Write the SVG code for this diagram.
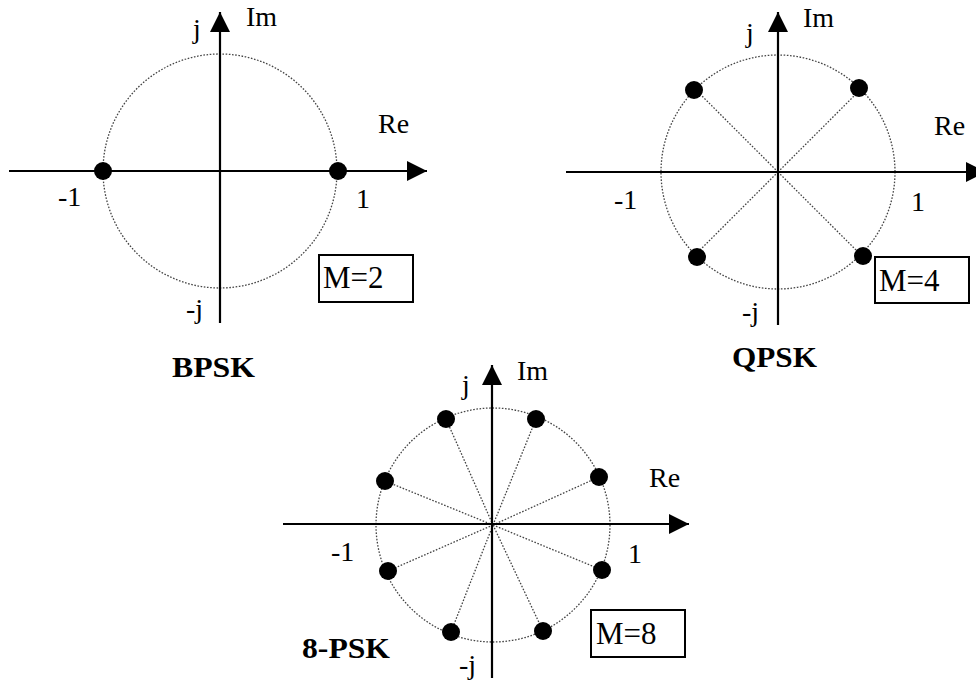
<svg xmlns="http://www.w3.org/2000/svg" width="976" height="684" viewBox="0 0 976 684" font-family="'Liberation Serif', 'Times New Roman', serif">
<defs>
<marker id="arr" markerUnits="userSpaceOnUse" markerWidth="22" markerHeight="22" refX="20" refY="10" orient="auto" viewBox="0 0 22 22">
<path d="M0,0 L20,10 L0,20 Z" fill="#000"/>
</marker>
</defs>
<style>
.axis{stroke:#000;stroke-width:2.2;fill:none}
.circ{stroke:#444;stroke-width:1.3;stroke-dasharray:1.6 1.6;fill:none}
.rad{stroke:#444;stroke-width:1.3;stroke-dasharray:1.6 1.6;fill:none}
.dot{fill:#000}
.lbl{font-size:28px;fill:#000}
.mlbl{font-size:31px;fill:#000}
.title{font-size:29px;font-weight:bold;fill:#000}
.box{fill:none;stroke:#000;stroke-width:2}
</style>
<rect width="976" height="684" fill="#fff"/>

<g id="bpsk">
<circle class="circ" cx="220" cy="171" r="117"/>
<line class="axis" x1="9" y1="171" x2="427" y2="171" marker-end="url(#arr)"/>
<line class="axis" x1="220" y1="323" x2="220" y2="12" marker-end="url(#arr)"/>
<circle class="dot" cx="103" cy="171" r="9"/>
<circle class="dot" cx="338" cy="171" r="9"/>
<text class="lbl" x="193" y="38">j</text>
<text class="lbl" x="246" y="26">Im</text>
<text class="lbl" x="378" y="133">Re</text>
<text class="lbl" x="58" y="206">-1</text>
<text class="lbl" x="356" y="208">1</text>
<text class="lbl" x="186" y="318">-j</text>
<rect class="box" x="319" y="255" width="94" height="47"/>
<text class="mlbl" x="323" y="288">M=2</text>
<text class="title" x="172" y="377" textLength="83" lengthAdjust="spacingAndGlyphs">BPSK</text>
</g>

<g id="qpsk">
<circle class="circ" cx="778" cy="172" r="117"/>
<g id="qpsk-radials">
<line class="rad" x1="778" y1="172" x2="695" y2="89"/>
<line class="rad" x1="778" y1="172" x2="861" y2="89"/>
<line class="rad" x1="778" y1="172" x2="695" y2="255"/>
<line class="rad" x1="778" y1="172" x2="861" y2="255"/>
</g>
<line class="axis" x1="566" y1="172" x2="986" y2="172" marker-end="url(#arr)"/>
<line class="axis" x1="778" y1="325" x2="778" y2="12" marker-end="url(#arr)"/>
<circle class="dot" cx="694" cy="90" r="9"/>
<circle class="dot" cx="859" cy="88" r="9"/>
<circle class="dot" cx="697" cy="257" r="9"/>
<circle class="dot" cx="863" cy="256" r="9"/>
<text class="lbl" x="746" y="42">j</text>
<text class="lbl" x="803" y="27">Im</text>
<text class="lbl" x="934" y="135">Re</text>
<text class="lbl" x="614" y="209">-1</text>
<text class="lbl" x="911" y="211">1</text>
<text class="lbl" x="742" y="321">-j</text>
<rect class="box" x="875" y="257" width="94" height="46"/>
<text class="mlbl" x="879" y="291">M=4</text>
<text class="title" x="732" y="367" textLength="85" lengthAdjust="spacingAndGlyphs">QPSK</text>
</g>

<g id="psk8">
<circle class="circ" cx="493" cy="525" r="117"/>
<g id="psk8-radials">
<line class="rad" x1="493" y1="525" x2="446" y2="419"/>
<line class="rad" x1="493" y1="525" x2="536" y2="419"/>
<line class="rad" x1="493" y1="525" x2="599" y2="477"/>
<line class="rad" x1="493" y1="525" x2="385" y2="481"/>
<line class="rad" x1="493" y1="525" x2="388" y2="571"/>
<line class="rad" x1="493" y1="525" x2="602" y2="570"/>
<line class="rad" x1="493" y1="525" x2="451" y2="632"/>
<line class="rad" x1="493" y1="525" x2="543" y2="631"/>
</g>
<line class="axis" x1="283" y1="524" x2="689" y2="524" marker-end="url(#arr)"/>
<line class="axis" x1="492" y1="678" x2="492" y2="365" marker-end="url(#arr)"/>
<circle class="dot" cx="446" cy="419" r="9"/>
<circle class="dot" cx="536" cy="419" r="9"/>
<circle class="dot" cx="599" cy="477" r="9"/>
<circle class="dot" cx="385" cy="481" r="9"/>
<circle class="dot" cx="388" cy="571" r="9"/>
<circle class="dot" cx="602" cy="570" r="9"/>
<circle class="dot" cx="451" cy="632" r="9"/>
<circle class="dot" cx="543" cy="631" r="9"/>
<text class="lbl" x="462" y="394">j</text>
<text class="lbl" x="517" y="380">Im</text>
<text class="lbl" x="649" y="487">Re</text>
<text class="lbl" x="331" y="561">-1</text>
<text class="lbl" x="628" y="563">1</text>
<text class="lbl" x="459" y="674">-j</text>
<rect class="box" x="591" y="610" width="94" height="47"/>
<text class="mlbl" x="596" y="644">M=8</text>
<text class="title" x="302" y="658" textLength="88" lengthAdjust="spacingAndGlyphs">8-PSK</text>
</g>
</svg>
